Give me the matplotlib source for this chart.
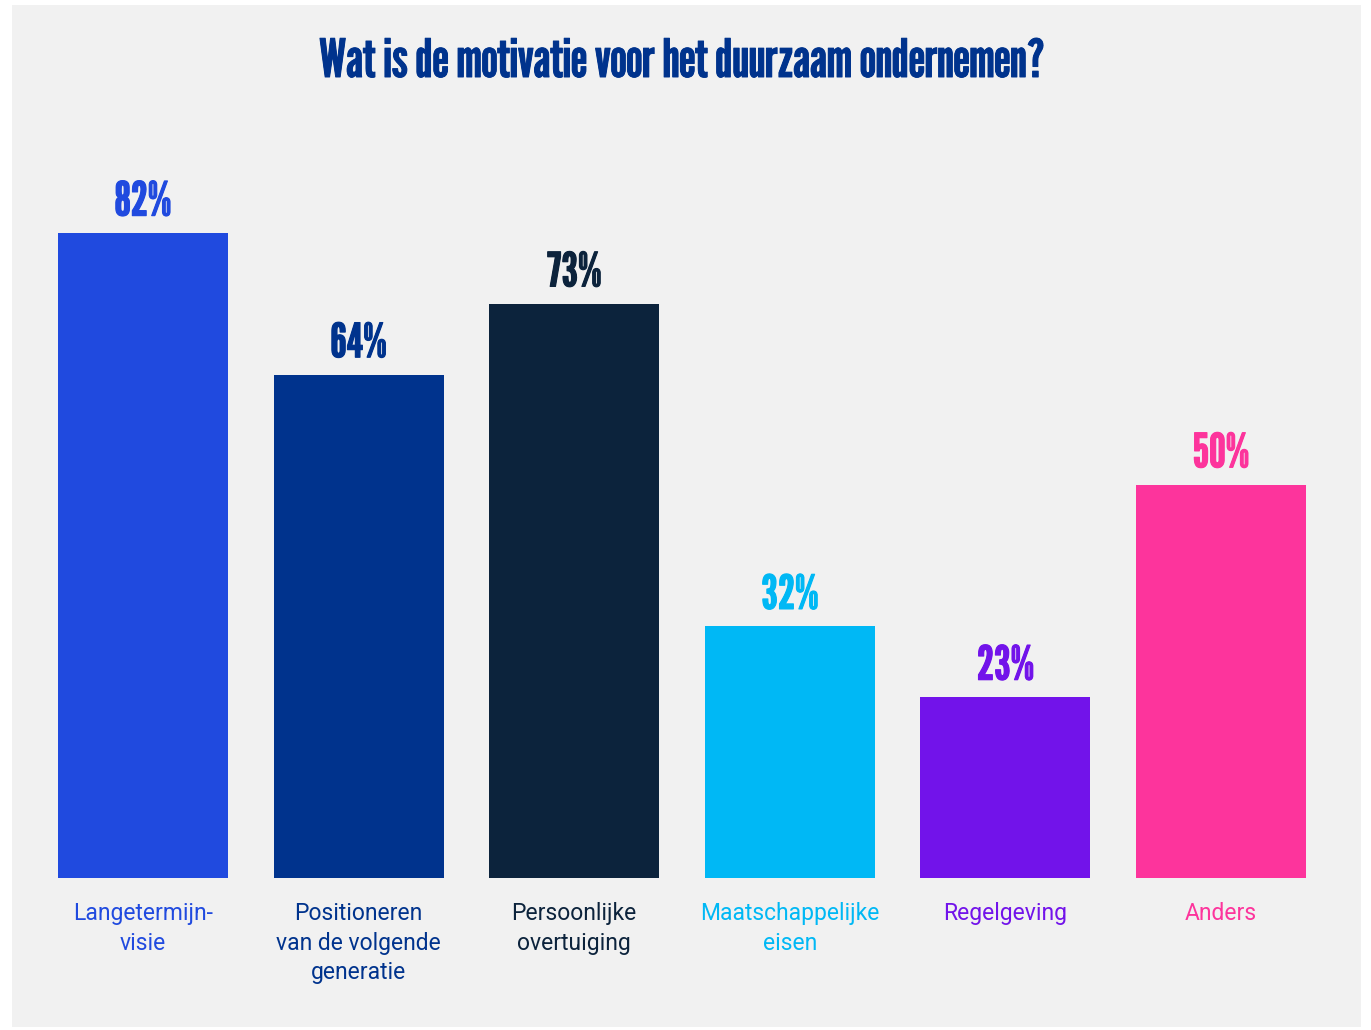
import matplotlib.pyplot as plt
from matplotlib.patches import Rectangle
import matplotlib.patheffects as pe

# data
categories = ["Langetermijn-\nvisie", "Positioneren\nvan de volgende\ngeneratie",
              "Persoonlijke\novertuiging", "Maatschappelijke\neisen", "Regelgeving", "Anders"]
values = [82, 64, 73, 32, 23, 50]
colors = ["#204ADF", "#00338D", "#0C233C", "#00B8F5", "#7213EA", "#FD349C"]
title = "Wat is de motivatie voor het duurzaam ondernemen?"

head_font = ["League Gothic", "DejaVu Sans"]
body_font = ["Roboto", "DejaVu Sans"]

fig = plt.figure(figsize=(13.71, 10.30), dpi=100)
fig.patch.set_facecolor("white")
bg = Rectangle((12 / 1371, 1 - 1027 / 1030), (1361 - 12) / 1371, (1027 - 5) / 1030,
               transform=fig.transFigure, facecolor="#F1F1F1", edgecolor="none", zorder=-5)
fig.patches.append(bg)

ax = fig.add_axes([35.2 / 1371, 1 - 878 / 1030, 1293.6 / 1371, 786.6 / 1030])
ax.set_facecolor("none")
x = range(len(values))
ax.bar(x, values, width=0.788, color=colors, zorder=2)
ax.set_xlim(-0.5, 5.5)
ax.set_ylim(0, 100)
ax.axis("off")

for i, v in enumerate(values):
    ax.annotate(f"{v}%", (i, v), xytext=(0, 6), textcoords="offset points",
                ha="center", va="bottom", fontsize=34, family=head_font, color=colors[i],
                path_effects=[pe.withStroke(linewidth=0.8, foreground=colors[i])])
    ax.annotate(categories[i], (i, 0), xytext=(0, -17.5), textcoords="offset points",
                ha="center", va="top", fontsize=16.5, family=body_font,
                fontweight="normal", color=colors[i], linespacing=1.36)

fig.text(0.498, 1 - 63 / 1030, title, ha="center", va="center", fontsize=38,
         family=head_font, color="#00338D",
         path_effects=[pe.withStroke(linewidth=0.7, foreground="#00338D")])

fig.savefig("out.png", dpi=100)
